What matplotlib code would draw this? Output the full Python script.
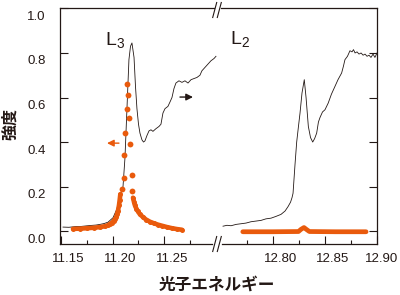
import matplotlib
matplotlib.use("Agg")
import matplotlib.pyplot as plt
from matplotlib.lines import Line2D
from matplotlib.transforms import ScaledTranslation

plt.rcParams['font.family'] = ['Liberation Sans', 'Noto Sans CJK JP', 'DejaVu Sans']

# --- data ---
# black spectrum, L3 edge
l3_x = [11.1524, 11.1580, 11.1639, 11.1700, 11.1783, 11.1840, 11.1880, 11.1920, 11.1957,
        11.2005, 11.2043, 11.2072, 11.2101, 11.2120, 11.2139, 11.2158, 11.2173, 11.2187,
        11.2207, 11.2221, 11.2235, 11.2250, 11.2264, 11.2283, 11.2298, 11.2312, 11.2332,
        11.2351, 11.2370, 11.2389, 11.2418, 11.2447, 11.2466, 11.2485, 11.2505, 11.2533,
        11.2553, 11.2572, 11.2591, 11.2610, 11.2639, 11.2668, 11.2697, 11.2726, 11.2755,
        11.2783, 11.2812, 11.2841, 11.2860, 11.2889, 11.2918, 11.2947, 11.2976, 11.2995]
l3_y = [0.018, 0.017, 0.020, 0.021, 0.025, 0.027, 0.030, 0.034, 0.040,
        0.060, 0.100, 0.160, 0.200, 0.330, 0.550, 0.770, 0.830, 0.845,
        0.780, 0.650, 0.550, 0.480, 0.440, 0.410, 0.400, 0.405, 0.430,
        0.450, 0.455, 0.448, 0.460, 0.470, 0.480, 0.530, 0.550, 0.560,
        0.580, 0.600, 0.640, 0.665, 0.675, 0.668, 0.675, 0.665, 0.680,
        0.685, 0.690, 0.700, 0.720, 0.735, 0.750, 0.765, 0.775, 0.785]

# black spectrum, L2 edge
l2_x = [12.7520, 12.7558, 12.7597, 12.7645, 12.7693, 12.7741, 12.7789, 12.7837, 12.7885,
        12.7933, 12.7981, 12.8029, 12.8077, 12.8116, 12.8145, 12.8169, 12.8183, 12.8193,
        12.8212, 12.8228, 12.8245, 12.8260, 12.8279, 12.8301, 12.8318, 12.8340, 12.8361,
        12.8382, 12.8400, 12.8420, 12.8437, 12.8452, 12.8476, 12.8500, 12.8531, 12.8562,
        12.8596, 12.8625, 12.8660, 12.8677, 12.8692, 12.8716, 12.8740, 12.8760, 12.8774,
        12.8789, 12.8808, 12.8827, 12.8847, 12.8866, 12.8885, 12.8904, 12.8923, 12.8942,
        12.8962, 12.8980, 12.9000]
l2_y = [0.022, 0.026, 0.024, 0.030, 0.033, 0.036, 0.042, 0.045, 0.048,
        0.055, 0.058, 0.066, 0.075, 0.090, 0.110, 0.130, 0.150, 0.170,
        0.300, 0.400, 0.470, 0.530, 0.620, 0.680, 0.600, 0.470, 0.420,
        0.400, 0.415, 0.440, 0.490, 0.510, 0.535, 0.545, 0.575, 0.615,
        0.650, 0.680, 0.710, 0.740, 0.770, 0.785, 0.810, 0.805, 0.815,
        0.800, 0.805, 0.795, 0.800, 0.790, 0.795, 0.785, 0.790, 0.780,
        0.795, 0.780, 0.800]

# orange calculated points, L3: tails and the sparse points around the peak
l3c_left_x = [11.1620, 11.1690, 11.1755, 11.1820, 11.1880, 11.1930, 11.1960, 11.1975,
              11.1995, 11.2010, 11.2025, 11.2035, 11.2043, 11.2053, 11.2062, 11.2069, 11.2075]
l3c_left_y = [0.010, 0.011, 0.013, 0.015, 0.018, 0.022, 0.027, 0.032,
              0.038, 0.045, 0.055, 0.063, 0.075, 0.092, 0.115, 0.140, 0.165]
l3c_peak_x = [11.2091, 11.2110, 11.2115, 11.2120, 11.2139, 11.2139,
              11.2149, 11.2158, 11.2168, 11.2187, 11.2187]
l3c_peak_y = [0.19, 0.24, 0.34, 0.44, 0.55, 0.66,
              0.61, 0.51, 0.39, 0.25, 0.18]
l3c_right_x = [11.2197, 11.2207, 11.2216, 11.2230, 11.2245, 11.2264, 11.2293, 11.2322,
               11.2360, 11.2399, 11.2437, 11.2476, 11.2524, 11.2572, 11.2620, 11.2668]
l3c_right_y = [0.150, 0.130, 0.115, 0.100, 0.088, 0.075, 0.063, 0.052,
               0.042, 0.035, 0.029, 0.024, 0.018, 0.013, 0.009, 0.006]

# orange calculated points, L2
l2c_x = [12.7710, 12.8000, 12.8245, 12.8270, 12.8298, 12.8320, 12.8350, 12.8600, 12.8895]
l2c_y = [-0.003, -0.003, -0.002, 0.008, 0.016, 0.008, -0.002, -0.003, -0.003]

yticks = [0.0, 0.2, 0.4, 0.6, 0.8, 1.0]
ytick_labels = ['0.0', '0.2', '0.4', '0.6', '0.8', '1.0']
x1_major = [11.15, 11.20, 11.25]
x1_minor = [11.175, 11.225, 11.275]
x1_labels = ['11.15', '11.20', '11.25']
x2_major = [12.80, 12.85, 12.90]
x2_minor = [12.775, 12.825, 12.875]
x2_labels = ['12.80', '12.85', '12.90']

orange = '#E95A0C'
ink = '#231815'

W, H = 400, 295
L, R, B, T, BRK = 60, 377, 244, 8, 217

fig = plt.figure(figsize=(4, 2.95), dpi=100)
ax1 = fig.add_axes([L / W, 1 - B / H, (BRK - L) / W, (B - T) / H])
ax2 = fig.add_axes([BRK / W, 1 - B / H, (R - BRK) / W, (B - T) / H])

for ax in (ax1, ax2):
    ax.set_ylim(-0.058, 1.002)
    for s in ax.spines.values():
        s.set_linewidth(0.9)
        s.set_color(ink)
    ax.tick_params(which='both', direction='in', width=0.8, color=ink,
                   labelcolor=ink, labelsize=9.5)
    ax.tick_params(which='major', length=6)
    ax.tick_params(which='minor', length=3)
    ax.tick_params(axis='x', pad=6.5)
    ax.tick_params(axis='y', pad=10.5)

ax1.set_xlim(11.1495, 11.3005)
ax2.set_xlim(12.7462, 12.9)

ax1.spines['right'].set_visible(False)
ax2.spines['left'].set_visible(False)
ax1.spines['bottom'].set_bounds(11.1495, 11.2957)
ax1.spines['top'].set_bounds(11.1495, 11.2976)
ax2.spines['bottom'].set_bounds(12.7510, 12.9)
ax2.spines['top'].set_bounds(12.7500, 12.9)

ax1.set_yticks(yticks)
ax1.set_yticklabels(ytick_labels)
ax2.yaxis.tick_right()
ax2.set_yticks(yticks)
ax2.tick_params(axis='y', labelright=False, labelleft=False)

ax1.set_xticks(x1_major)
ax1.set_xticks(x1_minor, minor=True)
ax1.set_xticklabels(x1_labels)
ax2.set_xticks(x2_major)
ax2.set_xticks(x2_minor, minor=True)
ax2.set_xticklabels(x2_labels)

# the printed labels sit a little right of / below their ticks
shift_x = ScaledTranslation(8 / 100, 0, fig.dpi_scale_trans)
shift_edge = ScaledTranslation(5 / 100, 0, fig.dpi_scale_trans)
shift_y = ScaledTranslation(0, -7 / 100, fig.dpi_scale_trans)
for ax in (ax1, ax2):
    for lab in ax.get_xticklabels():
        shift = shift_edge if lab.get_text() == '12.90' else shift_x
        lab.set_transform(lab.get_transform() + shift)
for lab in ax1.get_yticklabels():
    lab.set_transform(lab.get_transform() + shift_y)

# data
ax1.plot(l3_x, l3_y, color=ink, lw=0.6, zorder=2)
ax2.plot(l2_x, l2_y, color=ink, lw=0.6, zorder=2)

ax1.plot(l3c_left_x, l3c_left_y, color=orange, lw=3.3, solid_capstyle='round',
         marker='o', ms=3.6, mec='none', zorder=3)
ax1.plot(l3c_right_x, l3c_right_y, color=orange, lw=3.3, solid_capstyle='round',
         marker='o', ms=3.6, mec='none', zorder=3)
ax1.plot(l3c_peak_x, l3c_peak_y, 'o', color=orange, ms=4.2, mec='none', zorder=3)
ax2.plot(l2c_x, l2c_y, color=orange, lw=3.4, solid_capstyle='round',
         solid_joinstyle='round', zorder=3)

# edge labels
ax1.text(11.1928, 0.836, r'$\mathregular{L_3}$', fontsize=14, color=ink,
         ha='left', va='baseline')
ax2.text(12.7587, 0.840, r'$\mathregular{L_2}$', fontsize=14, color=ink,
         ha='left', va='baseline')

# axis arrows
ax1.annotate('', xy=(11.1947, 0.395), xytext=(11.2062, 0.395),
             arrowprops=dict(arrowstyle='-|>,head_length=0.4,head_width=0.2',
                             color=orange, lw=1.0, shrinkA=0, shrinkB=0))
ax1.annotate('', xy=(11.2774, 0.602), xytext=(11.2649, 0.602),
             arrowprops=dict(arrowstyle='-|>,head_length=0.4,head_width=0.2',
                             color=ink, lw=1.0, shrinkA=0, shrinkB=0))

# axis break marks
def slashes(cx, cy):
    for dx in (-2.3, 2.3):
        x0, x1 = cx + dx - 2.0, cx + dx + 2.0
        y0, y1 = cy + 7.5, cy - 7.5
        fig.add_artist(Line2D([x0 / W, x1 / W], [1 - y0 / H, 1 - y1 / H],
                              transform=fig.transFigure, color=ink, lw=0.8))

slashes(217, T + 2)
slashes(217, B)

fig.text(10 / W, 1 - 124 / H, '強度', rotation=90, ha='center', va='center',
         fontsize=11.5, fontweight='bold', color=ink, family='Noto Sans CJK JP')
fig.text(217 / W, 1 - 285 / H, '光子エネルギー', ha='center', va='center',
         fontsize=12, fontweight='bold', color=ink, family='Noto Sans CJK JP')

fig.savefig('out.png', dpi=100)
